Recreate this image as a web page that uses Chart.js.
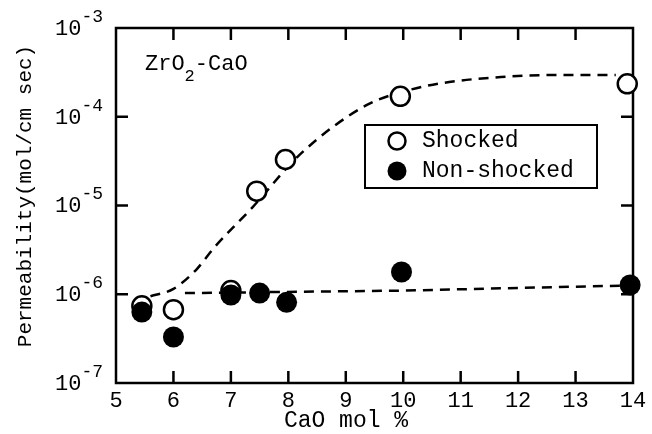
<!DOCTYPE html>
<html>
<head>
<meta charset="utf-8">
<script src="https://cdn.jsdelivr.net/npm/chart.js@4.4.0/dist/chart.umd.min.js"></script>
<style>
  body { margin: 0; background: #fff; }
  #wrap { width: 652px; height: 434px; }
</style>
</head>
<body>
<div id="wrap"><canvas id="myChart"></canvas></div>
<script>
// values (CaO mol %, permeability in mol/cm sec)
const shockedCaO = [5.45, 6.0, 7.0, 7.45, 7.95, 9.95, 13.9];
const shockedPerm = [7.4e-7, 6.7e-7, 1.1e-6, 1.45e-5, 3.3e-5, 1.7e-4, 2.35e-4];
const nonShockedCaO = [5.45, 6.0, 7.0, 7.5, 7.97, 9.97, 13.95];
const nonShockedPerm = [6.3e-7, 3.3e-7, 9.8e-7, 1.03e-6, 8.1e-7, 1.78e-6, 1.27e-6];

// dashed trend lines, traced by eye
const shockedCurveCaO = [5.6, 6.0, 6.4, 6.7, 7.38, 8.19, 9.36, 10.1, 10.8, 11.7, 12.55, 13.7];
const shockedCurvePerm = [9.5e-7, 1.15e-6, 1.9e-6, 3.3e-6, 9.6e-6, 3.7e-5, 1.35e-4, 2.0e-4, 2.46e-4, 2.8e-4, 2.95e-4, 2.95e-4];
const nonShockedCurveCaO = [6.2, 10.0, 13.8];
const nonShockedCurvePerm = [1.03e-6, 1.1e-6, 1.25e-6];

const xTicks = [5, 6, 7, 8, 9, 10, 11, 12, 13, 14];
const yExponents = [-7, -6, -5, -4, -3];

const FONT = '"Liberation Mono", "DejaVu Sans Mono", monospace';

function pts(xs, ys) {
    return xs.map((x, i) => ({x: x, y: ys[i]}));
}

const framePlugin = {
    id: 'frame',
    beforeDatasetsDraw(chart) {
        const c = chart.ctx, a = chart.chartArea;
        const xs = chart.scales.x, ys = chart.scales.y;
        c.save();
        c.strokeStyle = '#000';
        c.lineWidth = 2.5;
        c.strokeRect(a.left, a.top, a.right - a.left, a.bottom - a.top);
        c.beginPath();
        xTicks.slice(1, -1).forEach(v => {
            const px = xs.getPixelForValue(v);
            c.moveTo(px, a.bottom); c.lineTo(px, a.bottom - 12);
            c.moveTo(px, a.top); c.lineTo(px, a.top + 12);
        });
        yExponents.slice(1, -1).forEach(e => {
            const py = ys.getPixelForValue(Math.pow(10, e));
            c.moveTo(a.left, py); c.lineTo(a.left + 12, py);
            c.moveTo(a.right, py); c.lineTo(a.right - 12, py);
        });
        c.stroke();
        c.restore();
    },
    afterDatasetsDraw(chart) {
        const c = chart.ctx;
        const ys = chart.scales.y;
        c.save();
        c.fillStyle = '#000';
        c.textBaseline = 'middle';
        c.textAlign = 'left';

        // y tick labels with superscript exponents
        yExponents.forEach(e => {
            const py = ys.getPixelForValue(Math.pow(10, e));
            c.font = '22px ' + FONT;
            c.fillText('10', 55, py + 1);
            const w = c.measureText('10').width;
            c.font = '18px ' + FONT;
            c.fillText('-' + Math.abs(e), 55 + w, py - 11);
        });

        // axis titles
        c.font = '23px ' + FONT;
        c.textAlign = 'center';
        c.fillText('CaO mol %', 346, 421);
        c.save();
        c.translate(25, 196);
        c.rotate(-Math.PI / 2);
        c.font = '21px ' + FONT;
        c.fillText('Permeability(mol/cm sec)', 0, 0);
        c.restore();

        // system label ZrO2-CaO
        c.textAlign = 'left';
        c.textBaseline = 'alphabetic';
        c.font = '22px ' + FONT;
        c.fillText('ZrO', 145, 70);
        let x = 145 + c.measureText('ZrO').width;
        c.font = '17px ' + FONT;
        c.fillText('2', x, 81);
        x += c.measureText('2').width;
        c.font = '22px ' + FONT;
        c.fillText('-CaO', x, 70);

        // legend
        c.fillStyle = '#fff';
        c.fillRect(365, 125, 232, 63);
        c.strokeStyle = '#000';
        c.lineWidth = 2;
        c.strokeRect(365, 125, 232, 63);
        c.lineWidth = 2.5;
        c.beginPath();
        c.arc(397, 141, 8.5, 0, Math.PI * 2);
        c.stroke();
        c.fillStyle = '#000';
        c.beginPath();
        c.arc(397, 171, 9.5, 0, Math.PI * 2);
        c.fill();
        c.font = '23px ' + FONT;
        c.textBaseline = 'middle';
        c.fillText('Shocked', 422, 141);
        c.fillText('Non-shocked', 422, 171);
        c.restore();
    }
};

const ctx = document.getElementById('myChart').getContext('2d');
const myChart = new Chart(ctx, {
    type: 'scatter',
    data: {
        datasets: [{
            label: 'Non-shocked',
            data: pts(nonShockedCaO, nonShockedPerm),
            pointRadius: 10.5,
            pointBackgroundColor: '#000',
            pointBorderColor: '#000',
            pointBorderWidth: 0,
            clip: false,
            order: 0
        }, {
            label: 'Shocked',
            data: pts(shockedCaO, shockedPerm),
            pointRadius: 9.5,
            pointBackgroundColor: '#fff',
            pointBorderColor: '#000',
            pointBorderWidth: 2.5,
            clip: false,
            order: 1
        }, {
            label: 'Shocked trend',
            data: pts(shockedCurveCaO, shockedCurvePerm),
            showLine: true,
            cubicInterpolationMode: 'monotone',
            borderColor: '#000',
            borderWidth: 2.5,
            borderDash: [10, 7],
            pointRadius: 0,
            order: 2
        }, {
            label: 'Non-shocked trend',
            data: pts(nonShockedCurveCaO, nonShockedCurvePerm),
            showLine: true,
            borderColor: '#000',
            borderWidth: 2.5,
            borderDash: [10, 7],
            pointRadius: 0,
            order: 2
        }]
    },
    options: {
        responsive: true,
        maintainAspectRatio: false,
        animation: false,
        layout: {
            padding: {top: 28, right: 19, left: 0, bottom: 0}
        },
        plugins: {
            legend: {display: false},
            tooltip: {enabled: false}
        },
        scales: {
            x: {
                type: 'linear',
                min: 5,
                max: 14,
                afterBuildTicks: s => { s.ticks = xTicks.map(v => ({value: v})); },
                afterFit: s => { s.height = 51; },
                grid: {display: false, drawTicks: false},
                border: {display: false},
                ticks: {
                    color: '#000',
                    font: {family: FONT, size: 22},
                    padding: 5,
                    maxRotation: 0
                }
            },
            y: {
                type: 'logarithmic',
                min: 1e-7,
                max: 1e-3,
                afterFit: s => { s.width = 116; },
                grid: {display: false, drawTicks: false},
                border: {display: false},
                ticks: {display: false}
            }
        }
    },
    plugins: [framePlugin]
});
</script>
</body>
</html>
